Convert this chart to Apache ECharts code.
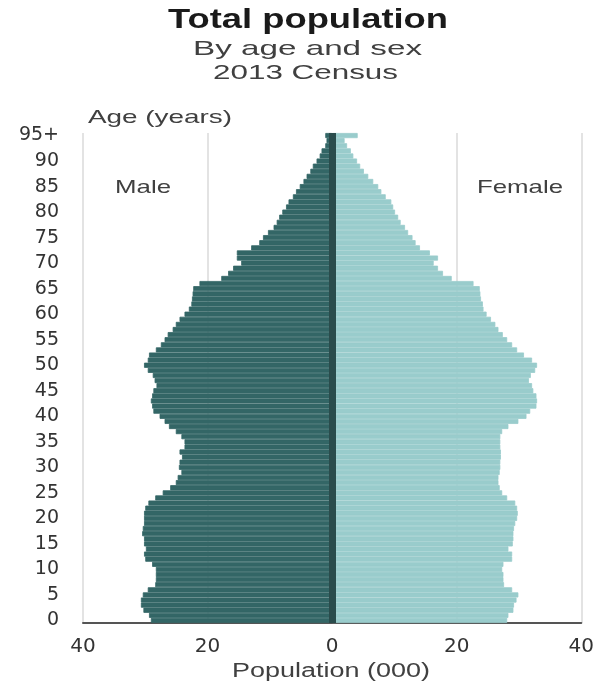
<!DOCTYPE html>
<html>
<head>
<meta charset="utf-8">
<script src="https://cdn.jsdelivr.net/npm/echarts@6/dist/echarts.min.js"></script>
<style>
html,body{margin:0;padding:0;background:#fff;}
#chart{width:597px;height:684px;}
</style>
</head>
<body>
<div id="chart"></div>
<script>
// Ages 0..94 and 95+
const ages = [];
for (let i = 0; i < 95; i++) ages.push(String(i));
ages.push('95+');

// Population (000), index = age
const male = [
  29.1, 29.4, 30.3, 30.7, 30.7, 30.4, 29.6, 28.4, 28.3, 28.3,
  28.3, 28.9, 30.0, 30.2, 29.9, 30.2, 30.2, 30.5, 30.4, 30.2,
  30.2, 30.2, 30.0, 29.5, 28.4, 27.2, 26.0, 25.1, 24.8, 24.2,
  24.6, 24.5, 24.1, 24.5, 23.7, 23.7, 24.2, 25.1, 26.2, 26.9,
  27.7, 28.7, 28.9, 29.1, 28.9, 28.7, 28.2, 28.5, 28.8, 29.6,
  30.2, 29.6, 29.4, 28.3, 27.5, 26.9, 26.4, 25.6, 25.1, 24.5,
  23.7, 23.0, 22.6, 22.5, 22.4, 22.3, 21.3, 17.8, 16.7, 15.9,
  14.6, 15.3, 15.3, 13.0, 11.7, 11.1, 10.3, 9.4, 8.9, 8.5,
  8.0, 7.4, 7.0, 6.3, 5.8, 5.2, 4.6, 4.1, 3.5, 3.1,
  2.5, 2.0, 1.7, 1.1, 0.9, 1.1
];
const female = [
  28.1, 28.3, 29.1, 29.2, 29.6, 29.9, 28.9, 27.6, 27.5, 27.5,
  27.3, 27.5, 28.9, 28.9, 28.3, 29.0, 29.1, 29.1, 29.2, 29.4,
  29.7, 29.8, 29.7, 29.4, 28.1, 27.3, 26.9, 26.7, 26.7, 26.9,
  27.0, 27.0, 27.1, 27.1, 27.0, 27.0, 27.0, 27.3, 28.3, 29.9,
  31.2, 31.8, 32.8, 32.9, 32.8, 32.3, 32.1, 31.6, 31.9, 32.6,
  32.9, 32.1, 30.8, 29.7, 28.9, 28.1, 27.4, 26.7, 26.2, 25.5,
  24.8, 24.3, 24.2, 23.9, 23.8, 23.7, 22.7, 19.2, 17.8, 17.0,
  16.3, 17.0, 15.7, 14.1, 13.4, 12.9, 12.2, 11.7, 11.0, 10.6,
  10.1, 9.8, 9.5, 8.6, 7.9, 7.4, 6.6, 5.8, 5.1, 4.5,
  4.0, 3.4, 3.0, 2.4, 2.0, 4.1
];
const xTicks = [-40, -20, 0, 20, 40];

const titleText = 'Total population';
const subtitle1 = 'By age and sex';
const subtitle2 = '2013 Census';
const yAxisTitle = 'Age (years)';
const maleLabel = 'Male';
const femaleLabel = 'Female';
const xAxisTitle = 'Population (000)';

const ctx = document.createElement('canvas').getContext('2d');
function stretched(text, font, left, right, cy, color) {
  ctx.font = font;
  const w = ctx.measureText(text).width;
  const s = (right - left) / w;
  return {
    type: 'text', x: left, y: cy, scaleX: s, scaleY: 1, silent: true, z: 100,
    style: { text: text, font: font, fill: color, textAlign: 'left', align: 'left',
             textVerticalAlign: 'middle', verticalAlign: 'middle' }
  };
}
const F = '"Liberation Sans", Arial, sans-serif';
const MALE_C = '#336666';
const FEMALE_C = '#99cccc';

const chart = echarts.init(document.getElementById('chart'), null, {renderer: 'canvas'});
chart.setOption({
  animation: false,
  backgroundColor: '#ffffff',
  grid: { left: 83, right: 14, top: 133, bottom: 61, containLabel: false },
  xAxis: {
    type: 'value', min: xTicks[0], max: xTicks[xTicks.length - 1], interval: 20,
    axisLine: { show: true, onZero: false, lineStyle: { color: '#555555', width: 2 } },
    axisTick: { show: false },
    axisLabel: { formatter: v => String(Math.abs(v)), margin: 14, fontSize: 20,
                 fontFamily: '"DejaVu Sans", sans-serif', color: '#333333' },
    splitLine: { show: true, lineStyle: { color: '#e3e3e3', width: 2 } }
  },
  yAxis: {
    type: 'category', data: ages,
    axisLine: { show: false }, axisTick: { show: false },
    axisLabel: { interval: (i) => i % 5 === 0, margin: 24, fontSize: 19,
                 fontFamily: '"DejaVu Sans", sans-serif', color: '#333333' },
    splitLine: { show: false }
  },
  series: [
    { name: 'Male', type: 'bar', data: male.map(v => -v), barCategoryGap: '0%', barGap: '-100%',
      itemStyle: { color: MALE_C, borderColor: MALE_C, borderWidth: 0.8 }, silent: true },
    { name: 'Female', type: 'bar', data: female, barCategoryGap: '0%', barGap: '-100%',
      itemStyle: { color: FEMALE_C, borderColor: FEMALE_C, borderWidth: 0.8 }, silent: true,
      markLine: { silent: true, symbol: 'none', label: { show: false },
                  lineStyle: { color: '#2a4c4c', width: 7, type: 'solid' },
                  data: [{ xAxis: 0 }] } }
  ],
  graphic: [
    stretched(titleText, 'bold 27px ' + F, 168, 448, 21, '#1a1a1a'),
    stretched(subtitle1, '21px ' + F, 193, 422, 49, '#404040'),
    stretched(subtitle2, '21px ' + F, 213, 398, 73, '#404040'),
    stretched(yAxisTitle, '19px ' + F, 88, 232, 118, '#404040'),
    stretched(maleLabel, '19px ' + F, 115, 171, 188, '#404040'),
    stretched(femaleLabel, '19px ' + F, 477, 563, 188, '#404040'),
    stretched(xAxisTitle, '20px ' + F, 232, 430, 671, '#404040')
  ]
});
</script>
</body>
</html>
